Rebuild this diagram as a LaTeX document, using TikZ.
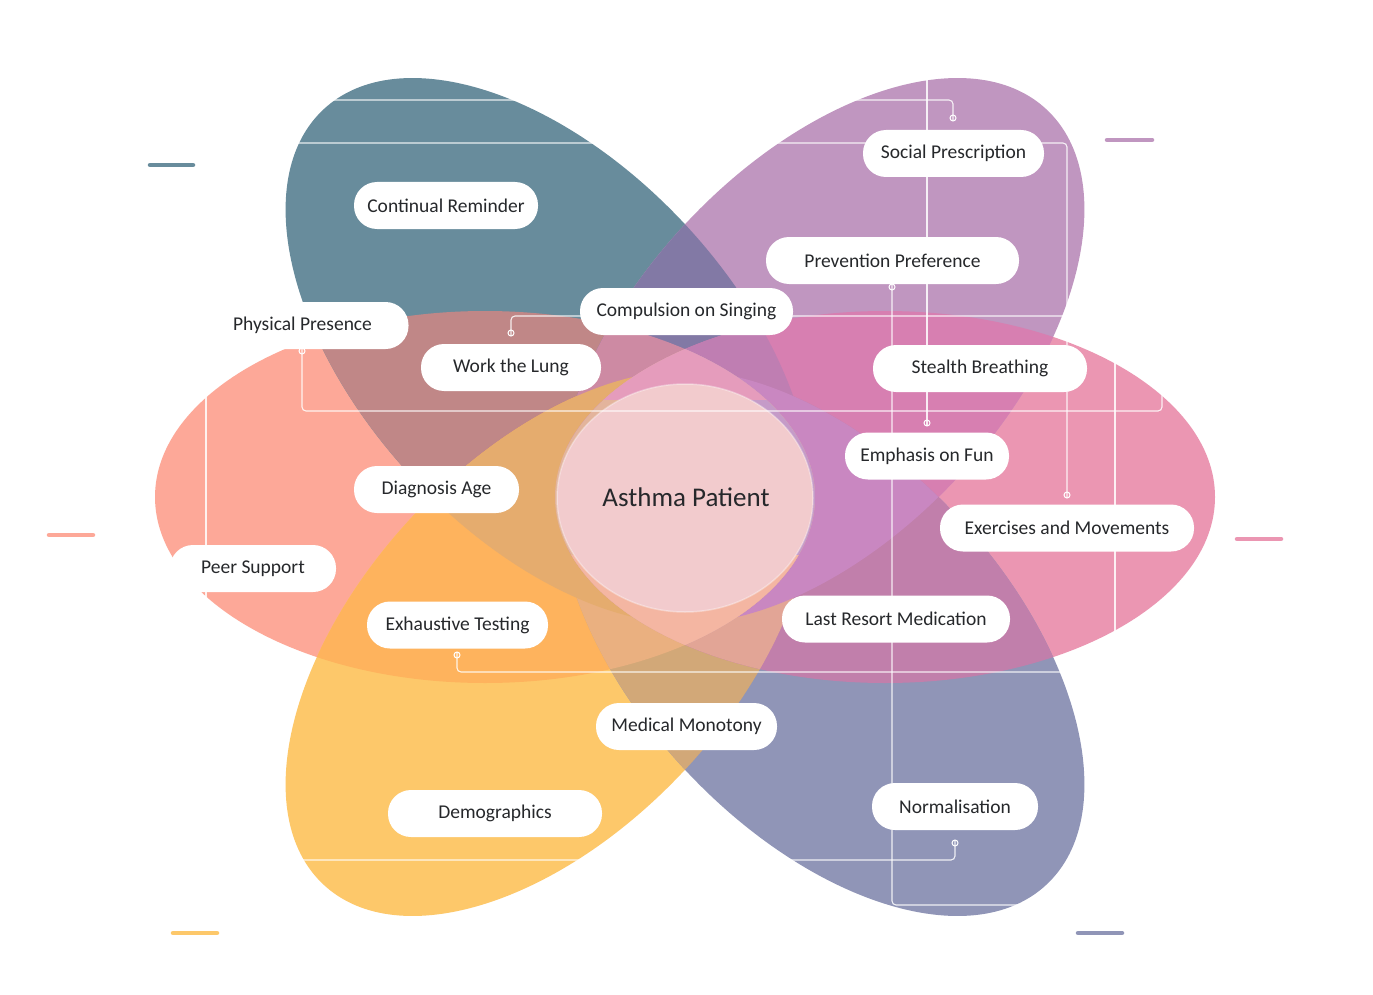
\documentclass[tikz,border=0pt]{standalone}
\usepackage{fontspec}
\setmainfont{Carlito}
\definecolor{cS}{HTML}{FDA898}
\definecolor{cK}{HTML}{EB96B2}
\definecolor{cT}{HTML}{688C9C}
\definecolor{cP}{HTML}{C096C0}
\definecolor{cY}{HTML}{FDC86A}
\definecolor{cB}{HTML}{9095B7}
\definecolor{cTS}{HTML}{C08787}
\definecolor{cTP}{HTML}{8279A5}
\definecolor{cPK}{HTML}{D77FB1}
\definecolor{cYS}{HTML}{FEB35D}
\definecolor{cYB}{HTML}{D2A878}
\definecolor{cBK}{HTML}{C17FAB}
\definecolor{cTPS}{HTML}{CD8AA3}
\definecolor{cTPK}{HTML}{BF7EB2}
\definecolor{cYBS}{HTML}{EAB080}
\definecolor{cYBK}{HTML}{E2A596}
\definecolor{cTSY}{HTML}{E5AC6E}
\definecolor{cPKB}{HTML}{C987C1}
\definecolor{cLl}{HTML}{E3B49C}
\definecolor{cLr}{HTML}{C59BC8}
\definecolor{cLt}{HTML}{E59CBC}
\definecolor{cLb}{HTML}{F4B6A2}
\definecolor{cLbl}{HTML}{EBB38E}
\definecolor{cLbr}{HTML}{E6A9A0}
\definecolor{cC}{HTML}{F2CBCD}
\definecolor{cText}{HTML}{26282B}
\def\shS{(485,497) ellipse [x radius=330,y radius=186]}
\def\shK{(885,497) ellipse [x radius=330,y radius=186]}
\newcommand\clS{\clip\shS;}
\newcommand\clK{\clip\shK;}
\newcommand\clT{\clip[rotT]\shS;}
\newcommand\clP{\clip[rotP]\shK;}
\newcommand\clY{\clip[rotY]\shS;}
\newcommand\clB{\clip[rotB]\shK;}
\newcommand\clLow{\clip (500,555) rectangle (900,700);}
\tikzset{
  rotT/.style={rotate around={-47:(685,497)}},
  rotP/.style={rotate around={47:(685,497)}},
  rotY/.style={rotate around={47:(685,497)}},
  rotB/.style={rotate around={-47:(685,497)}},
  conn/.style={draw=white, line width=1.1pt, rounded corners=4pt, opacity=0.85},
  dotc/.style={draw=white, line width=1pt},
  lbl/.style={fill=white, rounded corners=23pt, minimum height=47pt, inner xsep=0pt,
    text=cText, font=\fontsize{19.5}{22}\selectfont},
  deco/.style={line width=4.5pt, line cap=round}
}
\begin{document}
\begin{tikzpicture}[x=1pt,y=-1pt]
\useasboundingbox (0,0) rectangle (1373,995);
\fill[white] (0,0) rectangle (1373,995);
% solo shapes
\fill[cS]\shS;
\fill[cK]\shK;
\fill[cT,rotT]\shS;
\fill[cP,rotP]\shK;
\fill[cY,rotY]\shS;
\fill[cB,rotB]\shK;
% pair overlaps
\begin{scope}\clS \fill[cTS,rotT]\shS;\end{scope}
\begin{scope}\clT \fill[cTP,rotP]\shK;\end{scope}
\begin{scope}\clK \fill[cPK,rotP]\shK;\end{scope}
\begin{scope}\clS \fill[cYS,rotY]\shS;\end{scope}
\begin{scope}\clY \fill[cYB,rotB]\shK;\end{scope}
\begin{scope}\clK \fill[cBK,rotB]\shK;\end{scope}
% triple overlaps
\begin{scope}\clT\clP \fill[cTPS]\shS;\end{scope}
\begin{scope}\clT\clP \fill[cTPK]\shK;\end{scope}
\begin{scope}\clY\clB \fill[cYBS]\shS;\end{scope}
\begin{scope}\clY\clB \fill[cYBK]\shK;\end{scope}
\begin{scope}\clT\clY \fill[cTSY]\shS;\end{scope}
\begin{scope}\clP\clB \fill[cPKB]\shK;\end{scope}
% central lens
\begin{scope}\clS\clK
  \fill[cLl] (500,300) rectangle (900,700);
  \fill[cLr] (685,300) rectangle (900,700);
  \fill[cLt] (500,300) rectangle (900,400);
  \begin{scope}\clLow\clY \fill[cLbl] (500,300) rectangle (900,700);\end{scope}
  \begin{scope}\clLow\clB \fill[cLbr] (500,300) rectangle (900,700);\end{scope}
  \begin{scope}\clLow\clY\clB \fill[cLb] (500,300) rectangle (900,700);\end{scope}
\end{scope}
\fill[cC] (685,498) ellipse [x radius=128,y radius=114];
\draw[white,opacity=0.35,line width=1.5pt] (685,498) ellipse [x radius=128,y radius=114];
% decorative dashes
\draw[cT,deco] (150,165) -- (193,165);
\draw[cP,deco] (1107,140) -- (1152,140);
\draw[cS,deco] (49,535) -- (93,535);
\draw[cK,deco] (1237,539) -- (1281,539);
\draw[cY,deco] (173,933) -- (217,933);
\draw[cB,deco] (1078,933) -- (1122,933);
% connector end markers
\coordinate (m1) at (953,118);
\coordinate (m2) at (1067,495);
\coordinate (m3) at (927,423);
\coordinate (m4) at (892,287);
\coordinate (m5) at (511,333);
\coordinate (m6) at (302,351);
\coordinate (m8) at (457,655);
\coordinate (m9) at (955,843);
% connectors
\draw[conn] (250,100) -- (953,100) -- ([yshift=-3pt]m1);
\draw[conn] (206,143) -- (1067,143) -- ([yshift=-3pt]m2);
\draw[conn] (927,40) -- ([yshift=-3pt]m3);
\draw[conn] ([yshift=3pt]m4) -- (892,905) -- (1150,905);
\draw[conn] ([yshift=-3pt]m5) -- (511,316) -- (1067,316);
\draw[conn] ([yshift=3pt]m6) -- (302,411) -- (1162,411) -- (1162,300);
\draw[conn] (206,143) -- (206,640);
\draw[conn] ([yshift=3pt]m8) -- (457,672) -- (1150,672);
\draw[conn] (240,860) -- (955,860) -- ([yshift=3pt]m9);
\draw[conn] (1115,300) -- (1115,700);
\foreach \m in {m1,m2,m3,m4,m5,m6,m8,m9} \draw[dotc] (\m) circle (3pt);
% labels
\node[lbl,minimum width=184pt] (n1) at (446,205.5) {Continual Reminder};
\node[lbl,minimum width=181pt] (n2) at (953.5,153.5) {Social Prescription};
\node[lbl,minimum width=253pt] (n3) at (892.5,260.5) {Prevention Preference};
\node[lbl,minimum width=213pt] (n4) at (686.5,311.5) {Compulsion on Singing};
\node[lbl,minimum width=212pt] (n5) at (302.5,325.5) {Physical Presence};
\node[lbl,minimum width=180pt] (n6) at (511,367.5) {Work the Lung};
\node[lbl,minimum width=214pt] (n7) at (980,368.5) {Stealth Breathing};
\node[lbl,minimum width=164pt] (n8) at (927,456) {Emphasis on Fun};
\node[lbl,minimum width=165pt] (n9) at (436.5,489.5) {Diagnosis Age};
\node[lbl,minimum width=254pt] (n10) at (1067,528) {Exercises and Movements};
\node[lbl,minimum width=166pt] (n11) at (253,568.5) {Peer Support};
\node[lbl,minimum width=181pt] (n12) at (457.5,625) {Exhaustive Testing};
\node[lbl,minimum width=228pt] (n13) at (896,619) {Last Resort Medication};
\node[lbl,minimum width=181pt] (n14) at (686.5,726.5) {Medical Monotony};
\node[lbl,minimum width=214pt] (n15) at (495,813.5) {Demographics};
\node[lbl,minimum width=166pt] (n16) at (955,806.5) {Normalisation};
\node[text=cText,font=\fontsize{27}{31}\selectfont] (c) at (686,497) {Asthma Patient};
\end{tikzpicture}
\end{document}
